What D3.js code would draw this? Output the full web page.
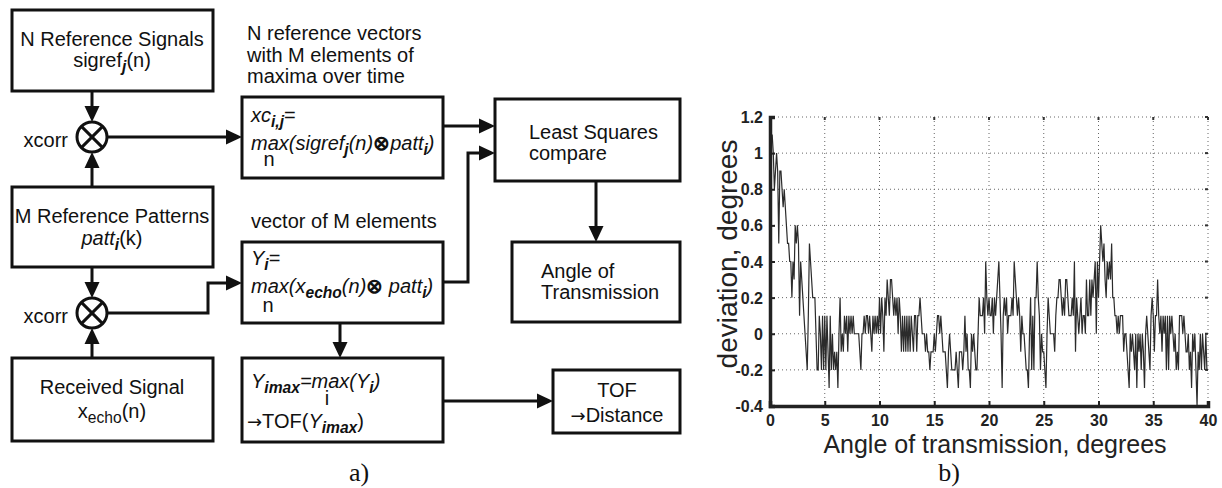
<!DOCTYPE html>
<html><head><meta charset="utf-8">
<script src="https://cdn.jsdelivr.net/npm/d3@7"></script>
<style>body{margin:0;background:#fff}svg{display:block}</style>
</head><body>
<script>
// ---------------- DATA ----------------
const angleStart = 0, angleStep = 0.1;
const deviation = [
 1.2, 1.1, 1.1, 1.0, 0.8, 0.9, 1.0, 0.9, 0.5, 0.9,
 0.9, 0.8, 0.7, 0.8, 0.7, 0.6, 0.5, 0.5, 0.4, 0.4,
 0.2, 0.4, 0.3, 0.6, 0.5, 0.6, 0.5, 0.1, 0.4, 0.3,
 0.2, 0.1, 0.0, -0.1, -0.2, 0.1, 0.5, 0.4, 0.3, 0.2,
 0.2, 0.2, 0.0, -0.2, -0.2, 0.1, 0.0, -0.2, 0.1, -0.2,
 0.1, -0.2, 0.1, -0.1, -0.3, 0.1, -0.2, 0.0, -0.2, -0.1,
 -0.2, -0.1, -0.3, 0.0, 0.2, -0.1, 0.0, -0.1, 0.1, 0.0,
 0.1, -0.1, 0.1, 0.0, 0.1, 0.0, 0.1, 0.0, 0.0, 0.0,
 0.0, 0.0, -0.1, -0.2, 0.0, 0.0, 0.1, 0.0, 0.1, 0.1,
 0.0, 0.1, 0.0, -0.1, 0.1, 0.0, 0.1, 0.0, 0.1, 0.0,
 0.2, 0.0, 0.2, 0.1, -0.1, 0.2, 0.1, 0.3, 0.2, 0.1,
 0.3, 0.3, 0.2, 0.1, 0.2, 0.1, 0.2, 0.0, 0.2, 0.1,
 -0.1, 0.1, -0.1, 0.1, -0.1, 0.1, -0.1, 0.1, -0.1, 0.1,
 0.0, -0.1, 0.1, 0.1, -0.1, 0.1, 0.1, 0.2, 0.1, 0.0,
 0.0, 0.0, -0.1, 0.0, -0.1, -0.1, -0.2, -0.1, -0.1, -0.1,
 0.0, -0.1, 0.0, 0.1, 0.1, 0.0, 0.1, 0.0, -0.1, -0.1,
 -0.1, -0.2, -0.3, -0.1, 0.0, -0.1, -0.2, -0.2, -0.2, -0.2,
 -0.1, -0.2, -0.3, -0.1, -0.1, -0.1, -0.2, -0.1, 0.1, -0.1,
 0.0, -0.2, -0.2, -0.3, 0.0, -0.1, 0.0, -0.1, -0.2, -0.2,
 0.0, 0.2, 0.1, 0.1, 0.1, 0.2, 0.0, 0.4, 0.2, 0.1,
 0.2, 0.1, 0.1, 0.2, 0.0, 0.2, 0.1, 0.2, 0.3, 0.4,
 0.2, 0.0, -0.3, 0.1, 0.2, 0.1, 0.2, 0.0, 0.1, 0.1,
 0.1, 0.2, 0.1, 0.4, 0.3, 0.2, 0.1, 0.2, 0.1, -0.1,
 0.1, 0.0, 0.0, -0.1, -0.2, -0.2, -0.3, 0.0, 0.2, -0.2,
 0.1, -0.2, 0.2, 0.2, 0.4, 0.2, 0.1, -0.2, 0.0, -0.1,
 -0.1, -0.2, -0.3, 0.0, 0.2, 0.1, 0.0, 0.0, 0.0, 0.0,
 -0.1, 0.1, 0.2, 0.2, 0.3, 0.3, 0.2, 0.1, 0.2, 0.1,
 0.3, 0.3, 0.2, 0.1, 0.1, 0.1, 0.2, 0.1, 0.4, -0.1,
 0.2, 0.1, 0.0, 0.1, 0.2, 0.0, 0.1, 0.1, 0.0, 0.3,
 0.1, 0.1, 0.3, 0.1, 0.3, 0.2, 0.3, 0.4, 0.0, 0.4,
 0.2, 0.4, 0.6, 0.5, 0.4, 0.5, 0.3, 0.2, 0.4, 0.3,
 0.4, 0.3, 0.5, 0.2, 0.2, 0.1, 0.1, 0.0, 0.1, 0.0,
 0.1, 0.1, 0.1, -0.1, 0.0, 0.0, -0.1, -0.2, -0.3, 0.0,
 -0.1, 0.0, -0.1, -0.2, 0.0, -0.3, 0.0, -0.1, 0.0, -0.2,
 0.0, -0.1, -0.3, 0.0, 0.1, 0.0, -0.1, -0.2, 0.1, 0.2,
 0.1, -0.1, 0.1, 0.1, 0.3, 0.1, 0.0, 0.1, -0.1, 0.1,
 0.0, 0.1, -0.2, 0.1, -0.2, 0.1, 0.0, 0.1, 0.0, -0.1,
 0.0, -0.2, -0.1, -0.2, 0.1, 0.1, 0.1, 0.0, 0.1, 0.0,
 -0.1, -0.1, 0.0, -0.2, -0.1, -0.3, 0.0, -0.1, 0.0, -0.2,
 -0.4, -0.1, -0.2, 0.0, -0.2, 0.0, -0.1, -0.2, 0.0, -0.2,
 -0.2
];
const xTicks = [0, 5, 10, 15, 20, 25, 30, 35, 40];
const yTicks = [-0.4, -0.2, 0, 0.2, 0.4, 0.6, 0.8, 1, 1.2];
const xTitle = "Angle of transmission, degrees";
const yTitle = "deviation, degrees";

// ---------------- SETUP ----------------
const W = 1222, H = 488;
const svg = d3.select("body").append("svg").attr("width", W).attr("height", H)
  .style("background", "#fff");
const SANS = "'Liberation Sans', Arial, Helvetica, sans-serif";
const SERIF = "'Liberation Serif', 'Times New Roman', serif";
const INK = "#111";

// ---------------- DIAGRAM (a) ----------------
const dg = svg.append("g").attr("font-family", SANS).attr("fill", INK);

const boxes = [
  [12, 10, 213, 91], [12, 187, 213, 267], [12, 358, 213, 441],
  [242, 97, 443, 178], [242, 242, 443, 323], [242, 358, 443, 442],
  [495, 99, 680, 181], [512, 242, 680, 322], [553, 370, 680, 433]
];
dg.selectAll("rect.box").data(boxes).join("rect").attr("class", "box")
  .attr("x", d => d[0]).attr("y", d => d[1])
  .attr("width", d => d[2] - d[0]).attr("height", d => d[3] - d[1])
  .attr("fill", "none").attr("stroke", INK).attr("stroke-width", 3);

function arrow(pts) {
  const n = pts.length;
  const [x1, y1] = pts[n - 2], [x2, y2] = pts[n - 1];
  const ang = Math.atan2(y2 - y1, x2 - x1);
  const L = 16, Wd = 7.5;
  const bx = x2 - L * Math.cos(ang), by = y2 - L * Math.sin(ang);
  const line = pts.slice(0, n - 1).concat([[bx, by]]);
  dg.append("path").attr("d", d3.line()(line)).attr("fill", "none")
    .attr("stroke", INK).attr("stroke-width", 3).attr("stroke-linejoin", "miter");
  const px = -Math.sin(ang), py = Math.cos(ang);
  dg.append("path").attr("d", d3.line()([[x2, y2], [bx + px * Wd, by + py * Wd], [bx - px * Wd, by - py * Wd]]) + "Z")
    .attr("fill", INK);
}
function line(pts) {
  dg.append("path").attr("d", d3.line()(pts)).attr("fill", "none")
    .attr("stroke", INK).attr("stroke-width", 3);
}
function otimes(cx, cy, r) {
  dg.append("circle").attr("cx", cx).attr("cy", cy).attr("r", r)
    .attr("fill", "#fff").attr("stroke", INK).attr("stroke-width", 3);
  const k = r * 0.707;
  line([[cx - k, cy - k], [cx + k, cy + k]]);
  line([[cx - k, cy + k], [cx + k, cy - k]]);
}

// connectors
arrow([[92, 91], [92, 122]]);
arrow([[92, 187], [92, 152]]);
arrow([[92, 267], [92, 298]]);
arrow([[92, 358], [92, 328]]);
arrow([[107, 137], [242, 137]]);
arrow([[107, 313], [208, 313], [208, 283], [242, 283]]);
arrow([[443, 126], [495, 126]]);
arrow([[443, 282], [468, 282], [468, 153], [495, 153]]);
arrow([[596, 181], [596, 242]]);
arrow([[340, 323], [340, 358]]);
arrow([[443, 401], [553, 401]]);
otimes(92, 137, 15);
otimes(92, 313, 15);

// rich text helper: segs = [text, flags] flags: i italic, b bold, s subscript, a arrow glyph
function rich(x, y, segs, anchor, size) {
  size = size || 20;
  const t = dg.append("text").attr("x", x).attr("y", y)
    .attr("text-anchor", anchor || "start").attr("font-size", size);
  let shifted = false;
  segs.forEach(([txt, f]) => {
    f = f || "";
    const sp = t.append("tspan").text(txt);
    if (f.includes("i")) sp.attr("font-style", "italic");
    if (f.includes("b")) sp.attr("font-weight", "bold");
    if (f.includes("a")) sp.attr("font-family", "'DejaVu Sans', sans-serif").attr("font-size", size * 0.9);
    const wantSub = f.includes("s");
    if (wantSub) sp.attr("font-size", size * 0.78);
    if (wantSub && !shifted) { sp.attr("dy", 5); shifted = true; }
    else if (!wantSub && shifted) { sp.attr("dy", -5); shifted = false; }
  });
  return t;
}

rich(112, 46, [["N Reference Signals"]], "middle");
rich(112, 67, [["sigref"], ["j", "ibs"], ["(n)"]], "middle");
rich(112, 223, [["M Reference Patterns"]], "middle");
rich(112, 245, [["patt", "i"], ["i", "ibs"], ["(k)"]], "middle");
rich(112, 394, [["Received Signal"]], "middle");
rich(112, 418, [["x"], ["echo", "s"], ["(n)"]], "middle");
rich(68, 147, [["xcorr"]], "end");
rich(68, 323, [["xcorr"]], "end");

rich(247, 40, [["N reference vectors"]]);
rich(247, 62, [["with M elements of"]]);
rich(247, 83, [["maxima over time"]]);
rich(251, 122, [["xc", "i"], ["i,j", "ibs"], ["="]]);
rich(251, 150, [["max(sigref", "i"], ["j", "ibs"], ["(n)", "i"], ["\u2297", "b"], ["patt", "i"], ["i", "ibs"], [")", "i"]]);
rich(269, 166, [["n"]], "middle");

rich(251, 228, [["vector of M elements"]]);
rich(251, 265, [["Y", "i"], ["i", "ibs"], ["="]]);
rich(251, 293, [["max(x", "i"], ["echo", "ibs"], ["(n)", "i"], ["\u2297", "b"], [" patt", "i"], ["i", "ibs"], [")", "i"]]);
rich(268, 312, [["n"]], "middle");

rich(251, 388, [["Y", "i"], ["imax", "ibs"], ["=max(Y", "i"], ["i", "ibs"], [")", "i"]]);
rich(327, 405, [["i"]], "middle");
rich(247, 428, [["\u2192", "a"], ["TOF("], ["Y", "i"], ["imax", "ibs"], [")"]]);

rich(529, 139, [["Least Squares"]]);
rich(529, 160, [["compare"]]);
rich(541, 278, [["Angle of"]]);
rich(541, 299, [["Transmission"]]);
rich(617, 397, [["TOF"]], "middle");
rich(617, 422, [["\u2192", "a"], ["Distance"]], "middle");

svg.append("text").attr("x", 359).attr("y", 481).attr("text-anchor", "middle")
  .attr("font-family", SERIF).attr("font-size", 26).attr("fill", INK).text("a)");

// ---------------- CHART (b) ----------------
const x = d3.scaleLinear().domain([0, 40]).range([770, 1208]);
const y = d3.scaleLinear().domain([-0.4, 1.2]).range([406, 117]);
const cg = svg.append("g");

// grid
cg.append("g").selectAll("line").data(xTicks.filter(d => d > 0)).join("line")
  .attr("x1", d => x(d)).attr("x2", d => x(d)).attr("y1", y(1.2)).attr("y2", y(-0.4))
  .attr("stroke", "#666").attr("stroke-width", 1).attr("stroke-dasharray", "1,3");
cg.append("g").selectAll("line").data(yTicks.filter(d => d > -0.4)).join("line")
  .attr("x1", x(0)).attr("x2", x(40)).attr("y1", d => y(d)).attr("y2", d => y(d))
  .attr("stroke", "#666").attr("stroke-width", 1).attr("stroke-dasharray", "1,3");

// top/right small ticks
cg.append("g").selectAll("line").data(xTicks).join("line")
  .attr("x1", d => x(d)).attr("x2", d => x(d)).attr("y1", y(1.2)).attr("y2", y(1.2) + 3)
  .attr("stroke", "#333").attr("stroke-width", 2);
cg.append("g").selectAll("line").data(yTicks).join("line")
  .attr("x1", x(40)).attr("x2", x(40) - 3).attr("y1", d => y(d)).attr("y2", d => y(d))
  .attr("stroke", "#333").attr("stroke-width", 2);

// data line
cg.append("path").datum(deviation)
  .attr("d", d3.line().x((d, i) => x(angleStart + i * angleStep)).y(d => y(d)))
  .attr("fill", "none").attr("stroke", "#2b2b2b").attr("stroke-width", 1.2)
  .attr("stroke-linejoin", "miter");

// axes
const xAxis = cg.append("g").attr("transform", `translate(0,${y(-0.4)})`)
  .call(d3.axisBottom(x).tickValues(xTicks).tickSize(-5).tickPadding(9).tickFormat(d3.format("d")));
const yAxis = cg.append("g").attr("transform", `translate(${x(0)},0)`)
  .call(d3.axisLeft(y).tickValues(yTicks).tickSize(-5).tickPadding(7)
    .tickFormat(d => d === 0 ? "0" : (Number.isInteger(d) ? String(d) : d.toFixed(1))));
[xAxis, yAxis].forEach(a => {
  a.select(".domain").attr("stroke", "#222").attr("stroke-width", 3.5);
  a.selectAll(".tick line").attr("stroke", "#222").attr("stroke-width", 2);
  a.selectAll(".tick text").attr("font-family", SANS).attr("font-weight", "bold")
    .attr("font-size", 16).attr("fill", "#222");
});
yAxis.selectAll(".tick text").attr("dy", "0.35em");

svg.append("text").attr("x", 995).attr("y", 453).attr("text-anchor", "middle")
  .attr("font-family", SANS).attr("font-size", 25).attr("fill", "#222").text(xTitle);
svg.append("text").attr("transform", "translate(737,254) rotate(-90)").attr("text-anchor", "middle")
  .attr("font-family", SANS).attr("font-size", 28).attr("fill", "#222").text(yTitle);
svg.append("text").attr("x", 949).attr("y", 481).attr("text-anchor", "middle")
  .attr("font-family", SERIF).attr("font-size", 26).attr("fill", INK).text("b)");
</script>
</body></html>
